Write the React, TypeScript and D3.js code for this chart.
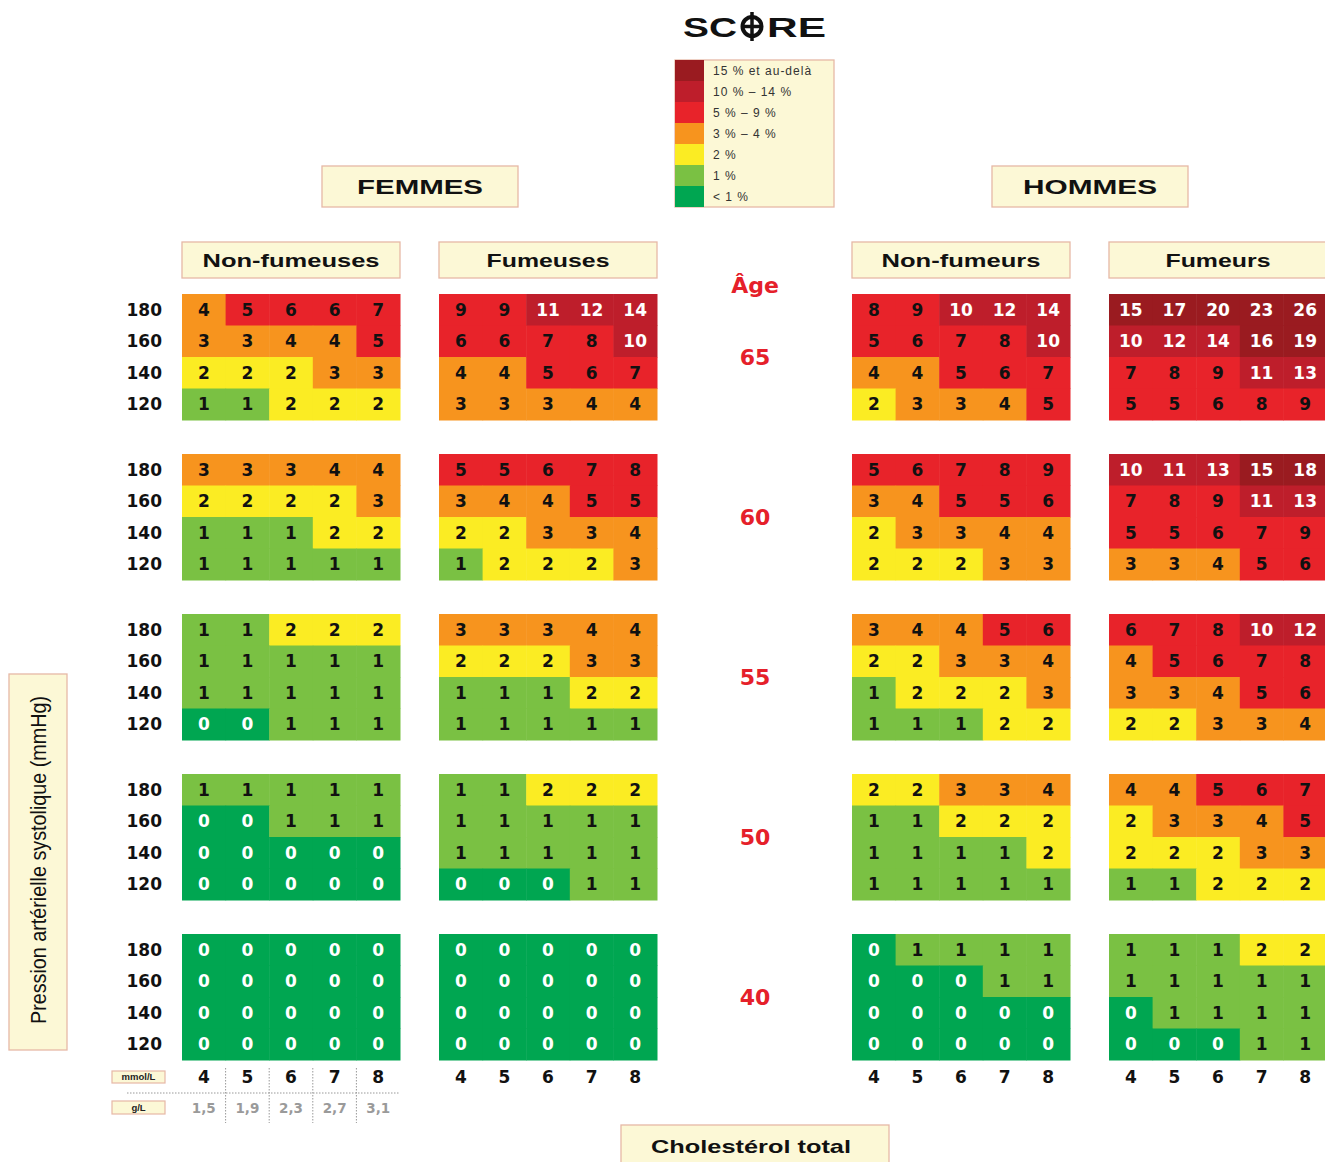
import React from "react";
import * as d3 from "d3";

// ---------- DATA ----------
const ages = [65, 60, 55, 50, 40];
const sbpLevels = [180, 160, 140, 120];
const cholMmol = [4, 5, 6, 7, 8];
const cholGL = ["1,5", "1,9", "2,3", "2,7", "3,1"];

// each: ages (65..40) x SBP rows (180..120) x cholesterol (4..8)
const womenNonSmokers = [
  [[4, 5, 6, 6, 7], [3, 3, 4, 4, 5], [2, 2, 2, 3, 3], [1, 1, 2, 2, 2]],
  [[3, 3, 3, 4, 4], [2, 2, 2, 2, 3], [1, 1, 1, 2, 2], [1, 1, 1, 1, 1]],
  [[1, 1, 2, 2, 2], [1, 1, 1, 1, 1], [1, 1, 1, 1, 1], [0, 0, 1, 1, 1]],
  [[1, 1, 1, 1, 1], [0, 0, 1, 1, 1], [0, 0, 0, 0, 0], [0, 0, 0, 0, 0]],
  [[0, 0, 0, 0, 0], [0, 0, 0, 0, 0], [0, 0, 0, 0, 0], [0, 0, 0, 0, 0]],
];
const womenSmokers = [
  [[9, 9, 11, 12, 14], [6, 6, 7, 8, 10], [4, 4, 5, 6, 7], [3, 3, 3, 4, 4]],
  [[5, 5, 6, 7, 8], [3, 4, 4, 5, 5], [2, 2, 3, 3, 4], [1, 2, 2, 2, 3]],
  [[3, 3, 3, 4, 4], [2, 2, 2, 3, 3], [1, 1, 1, 2, 2], [1, 1, 1, 1, 1]],
  [[1, 1, 2, 2, 2], [1, 1, 1, 1, 1], [1, 1, 1, 1, 1], [0, 0, 0, 1, 1]],
  [[0, 0, 0, 0, 0], [0, 0, 0, 0, 0], [0, 0, 0, 0, 0], [0, 0, 0, 0, 0]],
];
const menNonSmokers = [
  [[8, 9, 10, 12, 14], [5, 6, 7, 8, 10], [4, 4, 5, 6, 7], [2, 3, 3, 4, 5]],
  [[5, 6, 7, 8, 9], [3, 4, 5, 5, 6], [2, 3, 3, 4, 4], [2, 2, 2, 3, 3]],
  [[3, 4, 4, 5, 6], [2, 2, 3, 3, 4], [1, 2, 2, 2, 3], [1, 1, 1, 2, 2]],
  [[2, 2, 3, 3, 4], [1, 1, 2, 2, 2], [1, 1, 1, 1, 2], [1, 1, 1, 1, 1]],
  [[0, 1, 1, 1, 1], [0, 0, 0, 1, 1], [0, 0, 0, 0, 0], [0, 0, 0, 0, 0]],
];
const menSmokers = [
  [[15, 17, 20, 23, 26], [10, 12, 14, 16, 19], [7, 8, 9, 11, 13], [5, 5, 6, 8, 9]],
  [[10, 11, 13, 15, 18], [7, 8, 9, 11, 13], [5, 5, 6, 7, 9], [3, 3, 4, 5, 6]],
  [[6, 7, 8, 10, 12], [4, 5, 6, 7, 8], [3, 3, 4, 5, 6], [2, 2, 3, 3, 4]],
  [[4, 4, 5, 6, 7], [2, 3, 3, 4, 5], [2, 2, 2, 3, 3], [1, 1, 2, 2, 2]],
  [[1, 1, 1, 2, 2], [1, 1, 1, 1, 1], [0, 1, 1, 1, 1], [0, 0, 0, 1, 1]],
];

const panelTitles = ["Non-fumeuses", "Fumeuses", "Non-fumeurs", "Fumeurs"];
const genderTitles = ["FEMMES", "HOMMES"];
const legendLabels = ["15 % et au-delà", "10 % – 14 %", "5 % – 9 %", "3 % – 4 %", "2 %", "1 %", "< 1 %"];
const riskThresholds = [1, 2, 3, 5, 10, 15];
const riskColors = ["#00a651", "#7ac143", "#fbec23", "#f7941e", "#e8232a", "#be1e2b", "#9a1b20"];

// ---------- LAYOUT ----------
const W = 1325;
const H = 1162;
const FONT = "'DejaVu Sans', 'Liberation Sans', sans-serif";
const HFONT = "'Liberation Sans', Arial, sans-serif";
const panels = [womenNonSmokers, womenSmokers, menNonSmokers, menSmokers];
const panelX = [182, 439, 852, 1109];
const panelW = 218;
const cream = "#fcf8d6";
const boxStroke = "#e6b8a6";
const ageRed = "#e5202a";

const color = d3.scaleThreshold<number, string>().domain(riskThresholds).range(riskColors);
const ageScale = d3.scaleBand<number>().domain(ages).range([294, 1060]).paddingInner(0.2125).paddingOuter(0);
const rowScale = d3.scaleBand<number>().domain(sbpLevels).range([0, ageScale.bandwidth()]);
const colScale = d3.scaleBand<number>().domain(cholMmol).range([0, panelW]);
const legendScale = d3.scaleBand<string>().domain(legendLabels).range([60, 207]);

const headerWidths = [177, 123, 159, 105];
const genderX = [322, 992];
const genderTextW = [126, 134];

function Box({ x, y, w, h }: { x: number; y: number; w: number; h: number }) {
  return <rect x={x} y={y} width={w} height={h} fill={cream} stroke={boxStroke} strokeWidth={1.3} />;
}

export default function App() {
  return (
    <svg
      width={W}
      height={H}
      viewBox={`0 0 ${W} ${H}`}
      style={{ position: "absolute", left: 0, top: 0, display: "block", background: "#fff" }}
      fontFamily={FONT}
    >
      {/* Title SCORE */}
      <g fontFamily={HFONT}>
        <text x={737} y={37} textAnchor="end" fontSize={27} fontWeight="bold" textLength={54} lengthAdjust="spacingAndGlyphs" fill="#111">SC</text>
        <circle cx={752} cy={26.5} r={9.5} fill="none" stroke="#111" strokeWidth={4} />
        <line x1={752} x2={752} y1={12} y2={41} stroke="#111" strokeWidth={3.5} />
        <line x1={742} x2={762} y1={26.5} y2={26.5} stroke="#111" strokeWidth={3.5} />
        <text x={767} y={37} fontSize={27} fontWeight="bold" textLength={59} lengthAdjust="spacingAndGlyphs" fill="#111">RE</text>
      </g>

      {/* Legend */}
      <g>
        <rect x={675} y={60} width={159} height={147} fill={cream} stroke={boxStroke} strokeWidth={1.3} />
        {legendLabels.map((lab, i) => (
          <g key={lab}>
            <rect x={675} y={legendScale(lab)!} width={29} height={legendScale.bandwidth()} fill={riskColors[riskColors.length - 1 - i]} />
            <text x={713} y={legendScale(lab)! + legendScale.bandwidth() / 2} dy="0.36em" fontSize={12} fontFamily={HFONT} fill="#333" letterSpacing={1}>{lab}</text>
          </g>
        ))}
      </g>

      {/* Gender headers */}
      {genderTitles.map((g, i) => (
        <g key={g}>
          <Box x={genderX[i]} y={166} w={196} h={41} />
          <text x={genderX[i] + 98} y={194} textAnchor="middle" fontSize={21} fontWeight="bold" fontFamily={HFONT} fill="#111" textLength={genderTextW[i]} lengthAdjust="spacingAndGlyphs">{g}</text>
        </g>
      ))}

      {/* Panel headers */}
      {panelTitles.map((t, i) => (
        <g key={t}>
          <Box x={panelX[i]} y={242} w={panelW} h={36} />
          <text x={panelX[i] + panelW / 2} y={267} textAnchor="middle" fontSize={17.5} fontWeight="bold" fontFamily={HFONT} fill="#111" textLength={headerWidths[i]} lengthAdjust="spacingAndGlyphs">{t}</text>
        </g>
      ))}

      {/* Age labels */}
      <text x={755} y={293} textAnchor="middle" fontSize={22} fontWeight="bold" fill={ageRed}>Âge</text>
      {ages.map((a) => (
        <text key={a} x={755} y={ageScale(a)! + ageScale.bandwidth() / 2} dy="0.36em" textAnchor="middle" fontSize={22} fontWeight="bold" fill={ageRed}>{a}</text>
      ))}

      {/* SBP row labels */}
      {ages.map((a) =>
        sbpLevels.map((s) => (
          <text key={`${a}-${s}`} x={162} y={ageScale(a)! + rowScale(s)! + rowScale.bandwidth() / 2} dy="0.36em" textAnchor="end" fontSize={17} fontWeight="bold" fill="#111">{s}</text>
        ))
      )}

      {/* Cells */}
      {panels.map((panel, pi) =>
        ages.map((a, ai) =>
          sbpLevels.map((s, si) =>
            cholMmol.map((c, ci) => {
              const v = panel[ai][si][ci];
              const x = panelX[pi] + colScale(c)!;
              const y = ageScale(a)! + rowScale(s)!;
              const light = v < 1 || v >= 10;
              return (
                <g key={`${pi}-${a}-${s}-${c}`}>
                  <rect x={x} y={y} width={colScale.bandwidth() + 0.5} height={rowScale.bandwidth() + 0.5} fill={color(v)} />
                  <text x={x + colScale.bandwidth() / 2} y={y + rowScale.bandwidth() / 2} dy="0.36em" textAnchor="middle" fontSize={17} fontWeight="bold" fill={light ? "#fff" : "#111"}>{v}</text>
                </g>
              );
            })
          )
        )
      )}

      {/* Cholesterol axis labels */}
      {panelX.map((px, pi) =>
        cholMmol.map((c) => (
          <text key={`ax-${pi}-${c}`} x={px + colScale(c)! + colScale.bandwidth() / 2} y={1077} dy="0.36em" textAnchor="middle" fontSize={17} fontWeight="bold" fill="#111">{c}</text>
        ))
      )}

      {/* mmol/L and g/L */}
      <rect x={112} y={1071} width={53} height={12} fill={cream} stroke={boxStroke} strokeWidth={1.2} />
      <text x={138.5} y={1077} dy="0.36em" textAnchor="middle" fontSize={9.5} fontWeight="bold" fontFamily={HFONT} fill="#222">mmol/L</text>
      <rect x={112} y={1101} width={53} height={13} fill={cream} stroke={boxStroke} strokeWidth={1.2} />
      <text x={138.5} y={1107.5} dy="0.36em" textAnchor="middle" fontSize={9.5} fontWeight="bold" fontFamily={HFONT} fill="#222">g/L</text>
      <line x1={127} x2={400} y1={1093} y2={1093} stroke="#999" strokeWidth={1} strokeDasharray="1.5,1.5" />
      {cholMmol.slice(1).map((c) => (
        <line key={`vd-${c}`} x1={panelX[0] + colScale(c)!} x2={panelX[0] + colScale(c)!} y1={1068} y2={1123} stroke="#999" strokeWidth={1} strokeDasharray="1.5,1.5" />
      ))}
      {cholMmol.map((c, i) => (
        <text key={`gl-${c}`} x={panelX[0] + colScale(c)! + colScale.bandwidth() / 2} y={1108} dy="0.36em" textAnchor="middle" fontSize={13.5} fontWeight="bold" fill="#9a9a9a">{cholGL[i]}</text>
      ))}

      {/* Cholestérol total */}
      <rect x={621} y={1125} width={268} height={45} fill={cream} stroke={boxStroke} strokeWidth={1.3} />
      <text x={751} y={1153} textAnchor="middle" fontSize={18.5} fontWeight="bold" fontFamily={HFONT} fill="#111" textLength={200} lengthAdjust="spacingAndGlyphs">Cholestérol total</text>

      {/* Y axis label */}
      <rect x={9} y={674} width={58} height={376} fill={cream} stroke={boxStroke} strokeWidth={1.3} />
      <text transform="translate(46,860) rotate(-90)" textAnchor="middle" fontSize={22} fontFamily={HFONT} fill="#111" textLength={328} lengthAdjust="spacingAndGlyphs">Pression artérielle systolique (mmHg)</text>
    </svg>
  );
}
